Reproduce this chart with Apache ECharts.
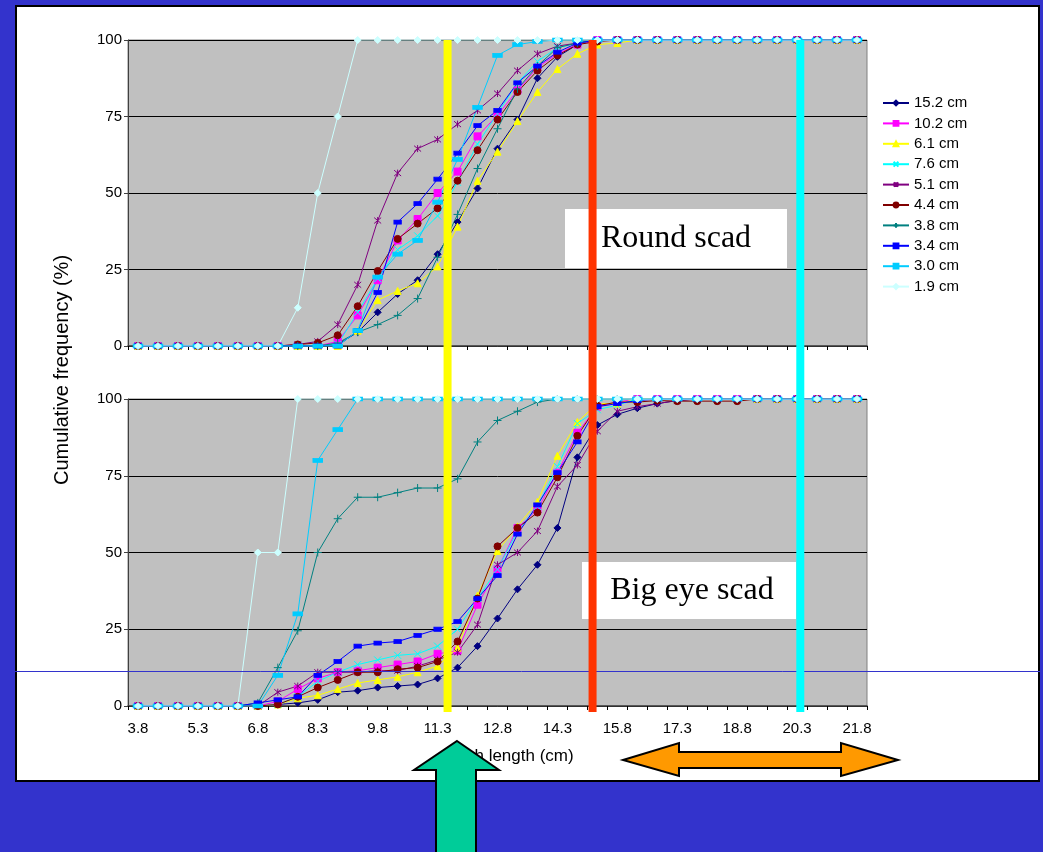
<!DOCTYPE html>
<html>
<head>
<meta charset="utf-8">
<title>Cumulative frequency by mesh length</title>
<script src="https://cdn.jsdelivr.net/npm/echarts@6.0.0/dist/echarts.min.js"></script>
<style>
  html, body { margin: 0; padding: 0; background: #3333cc; }
  #chart { width: 1043px; height: 852px; }
</style>
</head>
<body>
<div id="chart"></div>
<script>
// length classes (cm)
const lengths = ['3.8', '4.3', '4.8', '5.3', '5.8', '6.3', '6.8', '7.3', '7.8', '8.3', '8.8', '9.3',
  '9.8', '10.3', '10.8', '11.3', '11.8', '12.3', '12.8', '13.3', '13.8', '14.3', '14.8', '15.3',
  '15.8', '16.3', '16.8', '17.3', '17.8', '18.3', '18.8', '19.3', '19.8', '20.3', '20.8', '21.3', '21.8']

const meshNames = ['15.2 cm', '10.2 cm', '6.1 cm', '7.6 cm', '5.1 cm', '4.4 cm', '3.8 cm', '3.4 cm', '3.0 cm', '1.9 cm']

// Round scad - cumulative frequency (%)
const round152 = [0, 0, 0, 0, 0, 0, 0, 0, 0, 0, 0.5, 4.5, 11, 17, 21.5, 30, 40.5, 51.5, 64.5, 74, 87.5, 94.5, 98.5, 100, 100, 100, 100, 100, 100, 100, 100, 100, 100, 100, 100, 100, 100]
const round102 = [0, 0, 0, 0, 0, 0, 0, 0, 0, 0, 1.5, 10, 21.5, 34.5, 41.5, 50, 57, 68.5, 75.5, 83.5, 91, 95.5, 98.5, 100, 100, 100, 100, 100, 100, 100, 100, 100, 100, 100, 100, 100, 100]
const round61 = [0, 0, 0, 0, 0, 0, 0, 0, 0, 0, 0, 5, 15, 18, 20.5, 26, 39, 54, 63.5, 73.5, 83, 90.5, 95.5, 98.5, 99, 100, 100, 100, 100, 100, 100, 100, 100, 100, 100, 100, 100]
const round76 = [0, 0, 0, 0, 0, 0, 0, 0, 0, 0, 0.5, 11, 22, 31.5, 36, 42.5, 53.5, 66, 76, 86, 93, 97.5, 99, 100, 100, 100, 100, 100, 100, 100, 100, 100, 100, 100, 100, 100, 100]
const round51 = [0, 0, 0, 0, 0, 0, 0, 0, 0.5, 1.5, 7, 20, 41, 56.5, 64.5, 67.5, 72.5, 77, 82.5, 90, 95.5, 98, 99, 100, 100, 100, 100, 100, 100, 100, 100, 100, 100, 100, 100, 100, 100]
const round44 = [0, 0, 0, 0, 0, 0, 0, 0, 0.5, 1, 3.5, 13, 24.5, 35, 40, 45, 54, 64, 74, 83, 90, 95, 98.5, 99.5, 100, 100, 100, 100, 100, 100, 100, 100, 100, 100, 100, 100, 100]
const round38 = [0, 0, 0, 0, 0, 0, 0, 0, 0, 0, 1, 4.5, 7, 10, 15.5, 29, 43, 58, 71, 84, 91.5, 97.5, 99, 100, 100, 100, 100, 100, 100, 100, 100, 100, 100, 100, 100, 100, 100]
const round34 = [0, 0, 0, 0, 0, 0, 0, 0, 0, 0, 0, 5, 17.5, 40.5, 46.5, 54.5, 63, 72, 77, 86, 91.5, 96, 99, 100, 100, 100, 100, 100, 100, 100, 100, 100, 100, 100, 100, 100, 100]
const round30 = [0, 0, 0, 0, 0, 0, 0, 0, 0, 0, 0, 5, 22.5, 30, 34.5, 47, 61, 78, 95, 98.5, 99.5, 100, 100, 100, 100, 100, 100, 100, 100, 100, 100, 100, 100, 100, 100, 100, 100]
const round19 = [0, 0, 0, 0, 0, 0, 0, 0, 12.5, 50, 75, 100, 100, 100, 100, 100, 100, 100, 100, 100, 100, 100, 100, 100, 100, 100, 100, 100, 100, 100, 100, 100, 100, 100, 100, 100, 100]

// Big eye scad - cumulative frequency (%)
const bigeye152 = [0, 0, 0, 0, 0, 0, 0, 0.5, 1, 2, 4.5, 5, 6, 6.5, 7, 9, 12.5, 19.5, 28.5, 38, 46, 58, 81, 91.5, 95, 97, 98.5, 99.5, 100, 100, 100, 100, 100, 100, 100, 100, 100]
const bigeye102 = [0, 0, 0, 0, 0, 0, 0, 1.5, 5.5, 9, 11, 11.5, 12.5, 13.5, 14.5, 17, 18, 33, 44.5, 58, 64, 76, 89, 97.5, 99, 100, 100, 100, 100, 100, 100, 100, 100, 100, 100, 100, 100]
const bigeye61 = [0, 0, 0, 0, 0, 0, 0, 0.5, 2.5, 3.5, 5.5, 7.5, 8.5, 9.5, 11, 13, 19, 36, 50.5, 58.5, 66.5, 81.5, 92.5, 98.5, 98.5, 100, 100, 100, 100, 100, 100, 100, 100, 100, 100, 100, 100]
const bigeye76 = [0, 0, 0, 0, 0, 0, 0, 0.5, 3, 8, 11, 13.5, 15, 16.5, 17, 19.5, 25, 35, 44.5, 57, 65, 78, 92, 96.5, 98, 100, 100, 100, 100, 100, 100, 100, 100, 100, 100, 100, 100]
const bigeye51 = [0, 0, 0, 0, 0, 0, 0, 4.5, 6.5, 11, 11, 11, 11.5, 11.5, 13, 15, 17.5, 26.5, 46, 50, 57, 71.5, 78.5, 89.5, 96, 97.5, 98.5, 99.5, 100, 100, 100, 100, 100, 100, 100, 100, 100]
const bigeye44 = [0, 0, 0, 0, 0, 0, 0, 0.5, 3, 6, 8.5, 11, 11, 12, 12.5, 14.5, 21, 35, 52, 58, 63, 74.5, 88, 97.8, 99, 99, 99.5, 99.3, 99.3, 99.3, 99.3, 100, 100, 100, 100, 100, 100]
const bigeye38 = [0, 0, 0, 0, 0, 0, 1, 12.5, 24.5, 50, 61, 68, 68, 69.5, 71, 71, 74, 86, 93, 96, 99, 100, 100, 100, 100, 100, 100, 100, 100, 100, 100, 100, 100, 100, 100, 100, 100]
const bigeye34 = [0, 0, 0, 0, 0, 0, 1, 2, 3, 10, 14.5, 19.5, 20.5, 21, 23, 25, 27.5, 35, 42.5, 56, 65.5, 76, 86, 97.5, 98.5, 99.5, 100, 100, 100, 100, 100, 100, 100, 100, 100, 100, 100]
const bigeye30 = [0, 0, 0, 0, 0, 0, 0, 10, 30, 80, 90, 100, 100, 100, 100, 100, 100, 100, 100, 100, 100, 100, 100, 100, 100, 100, 100, 100, 100, 100, 100, 100, 100, 100, 100, 100, 100]
const bigeye19 = [0, 0, 0, 0, 0, 0, 50, 50, 100, 100, 100, 100, 100, 100, 100, 100, 100, 100, 100, 100, 100, 100, 100, 100, 100, 100, 100, 100, 100, 100, 100, 100, 100, 100, 100, 100, 100]

const roundData = [round152, round102, round61, round76, round51, round44, round38, round34, round30, round19]
const bigeyeData = [bigeye152, bigeye102, bigeye61, bigeye76, bigeye51, bigeye44, bigeye38, bigeye34, bigeye30, bigeye19]

// reference lengths marked with vertical bars (cm)
const markLengths = [11.55, 15.18, 20.38]
const markColors = ['#ffff00', '#ff3300', '#00ffff']

const meshColors = ['#000080', '#ff00ff', '#ffff00', '#00ffff', '#800080', '#800000', '#008080', '#0000ff', '#00ccff', '#ccffff']
const meshSymbols = [
  'diamond', 'rect', 'triangle',
  'path://M0,0L10,10M10,0L0,10',
  'path://M0,0L10,10M10,0L0,10M5,-1L5,11',
  'circle',
  'path://M5,0L5,10M0,5L10,5',
  'rect', 'rect', 'diamond'
]
const meshSymbolSizes = [7, 7, 7, 7, 7, 7, 8, [7, 4], [9, 4], 7]

const font = 'Liberation Sans, Arial, sans-serif'

const buildSeries = (dataSets, idx) => dataSets.map((values, i) => ({
  name: meshNames[i],
  type: 'line',
  xAxisIndex: idx,
  yAxisIndex: idx,
  data: values,
  color: meshColors[i],
  symbol: meshSymbols[i],
  symbolSize: meshSymbolSizes[i],
  showAllSymbol: true,
  lineStyle: { width: 1, color: meshColors[i] },
  itemStyle: { color: meshColors[i], borderColor: meshColors[i], borderWidth: 1 },
  emphasis: { disabled: true },
  animation: false
}))

const categoryAxis = (idx, showLabels) => ({
  type: 'category',
  gridIndex: idx,
  data: lengths,
  boundaryGap: true,
  axisLine: { lineStyle: { color: '#404040', width: 1.5 } },
  axisTick: { show: true, interval: 0, length: 4, lineStyle: { color: '#000' } },
  axisLabel: {
    show: showLabels,
    interval: 2,
    color: '#000',
    fontSize: 15,
    fontFamily: font,
    margin: 15
  },
  splitLine: { show: false }
})

const valueAxis = (idx) => ({
  type: 'value',
  gridIndex: idx,
  min: 0,
  max: 100,
  interval: 25,
  axisLine: { show: true, lineStyle: { color: '#404040', width: 1 } },
  axisTick: { show: true, length: 4, lineStyle: { color: '#404040' } },
  axisLabel: { color: '#000', fontSize: 15, fontFamily: font, margin: 6 },
  splitLine: { lineStyle: { color: '#000', width: 1 } }
})

const chart = echarts.init(document.getElementById('chart'))

const option = {
  backgroundColor: '#3333cc',
  animation: false,
  grid: [
    { left: 128, top: 40, width: 739, height: 306, show: true, backgroundColor: '#c0c0c0', borderColor: '#808080', borderWidth: 1 },
    { left: 128, top: 399, width: 739, height: 307, show: true, backgroundColor: '#c0c0c0', borderColor: '#808080', borderWidth: 1 },
    { left: 128, top: 40, width: 739, height: 672, show: false }
  ],
  xAxis: [
    categoryAxis(0, false),
    categoryAxis(1, true),
    { type: 'value', gridIndex: 2, min: 3.55, max: 22.05, show: false }
  ],
  yAxis: [
    valueAxis(0),
    valueAxis(1),
    { type: 'value', gridIndex: 2, min: 0, max: 1, show: false }
  ],
  legend: {
    data: meshNames,
    orient: 'vertical',
    left: 882,
    top: 95,
    padding: 0,
    itemWidth: 26,
    itemHeight: 6,
    itemGap: 4.4,
    textStyle: { color: '#000', fontSize: 15, fontFamily: font, lineHeight: 16 },
    selectedMode: false
  },
  graphic: [
    {
      type: 'rect', z: -10,
      shape: { x: 16, y: 6, width: 1023, height: 775 },
      style: { fill: '#ffffff', stroke: '#000000', lineWidth: 2 }
    },
    {
      type: 'rect', z: 5,
      shape: { x: 565, y: 209, width: 222, height: 59 },
      style: { fill: '#ffffff' }
    },
    {
      type: 'text', z: 6, x: 676, y: 239,
      style: { text: 'Round scad', fill: '#000', font: '32px "Liberation Serif", "Times New Roman", serif', align: 'center', verticalAlign: 'middle' }
    },
    {
      type: 'rect', z: 5,
      shape: { x: 582, y: 562, width: 214, height: 57 },
      style: { fill: '#ffffff' }
    },
    {
      type: 'text', z: 6, x: 692, y: 591,
      style: { text: 'Big eye scad', fill: '#000', font: '32px "Liberation Serif", "Times New Roman", serif', align: 'center', verticalAlign: 'middle' }
    },
    {
      type: 'line', z: 8,
      shape: { x1: 0, y1: 671.5, x2: 1043, y2: 671.5 },
      style: { stroke: '#3333cc', lineWidth: 1 }
    },
    {
      type: 'text', z: 15, x: 62, y: 370, rotation: Math.PI / 2,
      style: { text: 'Cumulative frequency (%)', fill: '#000', font: '20px ' + font, align: 'center', verticalAlign: 'middle' }
    },
    {
      type: 'text', z: 15, x: 508, y: 756,
      style: { text: 'Mesh length (cm)', fill: '#000', font: '17px ' + font, align: 'center', verticalAlign: 'middle' }
    },
    {
      type: 'polygon', z: 20,
      shape: { points: [[457, 741], [499, 770], [476, 770], [476, 860], [436, 860], [436, 770], [414, 770]] },
      style: { fill: '#00cc99', stroke: '#000', lineWidth: 2 }
    },
    {
      type: 'polygon', z: 20,
      shape: { points: [[623, 760], [679, 743], [679, 752], [841, 752], [841, 743], [898, 760], [841, 776], [841, 768], [679, 768], [679, 776]] },
      style: { fill: '#ff9900', stroke: '#000', lineWidth: 2 }
    }
  ],
  series: [
    ...buildSeries(roundData, 0),
    ...buildSeries(bigeyeData, 1),
    ...markLengths.map((cm, i) => ({
      type: 'line',
      xAxisIndex: 2,
      yAxisIndex: 2,
      data: [[cm, 0], [cm, 1]],
      symbol: 'none',
      silent: true,
      z: 10,
      lineStyle: { width: 8, color: markColors[i] },
      animation: false
    }))
  ]
}

chart.setOption(option)

window.addEventListener('resize', () => {
  chart && chart.resize()
})
</script>
</body>
</html>
